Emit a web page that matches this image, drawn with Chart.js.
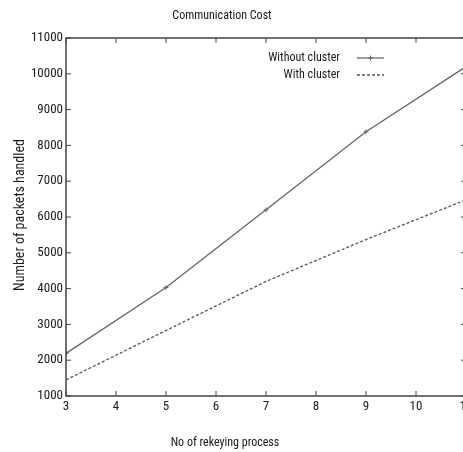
<!DOCTYPE html>
<html>
<head>
<meta charset="utf-8">
<script src="https://cdn.jsdelivr.net/npm/chart.js@4/dist/chart.umd.min.js"></script>
<style>
  html, body { margin: 0; padding: 0; background: #fff; overflow: hidden; }
  #wrap { width: 463px; height: 452px; overflow: hidden; }
</style>
</head>
<body>
<div id="wrap"><canvas id="costChart" width="480" height="452"></canvas></div>
<script>
const rekeying = [3, 5, 7, 9, 11];
const withoutCluster = [2190, 4030, 6200, 8380, 10200];
const withCluster = [1450, 2830, 4200, 5370, 6480];
const yTicks = [1000, 2000, 3000, 4000, 5000, 6000, 7000, 8000, 9000, 10000, 11000];

const FONT = '"Roboto Condensed", "Liberation Sans", sans-serif';

// gnuplot-like frame, inward ticks on all sides, texts and legend
const framePlugin = {
    id: 'frame',
    afterDraw(chart) {
        const ctx = chart.ctx;
        const a = chart.chartArea;
        const xs = chart.scales.x, ys = chart.scales.y;
        ctx.save();
        ctx.strokeStyle = '#444';
        ctx.lineWidth = 1.5;
        ctx.strokeRect(a.left, a.top, a.right - a.left, a.bottom - a.top);
        ctx.lineWidth = 1;
        xs.ticks.forEach(t => {
            const px = xs.getPixelForValue(t.value);
            ctx.beginPath();
            ctx.moveTo(px, a.bottom); ctx.lineTo(px, a.bottom - 5);
            ctx.moveTo(px, a.top); ctx.lineTo(px, a.top + 5);
            ctx.stroke();
        });
        ys.ticks.forEach(t => {
            const py = ys.getPixelForValue(t.value);
            ctx.beginPath();
            ctx.moveTo(a.left, py); ctx.lineTo(a.left + 5, py);
            ctx.moveTo(a.right, py); ctx.lineTo(a.right - 5, py);
            ctx.stroke();
        });

        ctx.fillStyle = '#1a1a1a';
        ctx.font = '12px ' + FONT;
        ctx.textAlign = 'center';
        ctx.textBaseline = 'middle';
        ctx.fillText('Communication Cost', 222, 16);
        ctx.fillText('No of rekeying process', 225, 443);
        ctx.save();
        ctx.font = '14px ' + FONT;
        ctx.translate(20, 215);
        ctx.rotate(-Math.PI / 2);
        ctx.fillText('Number of packets handled', 0, 0);
        ctx.restore();

        // legend: text right-aligned, sample to the right
        ctx.textAlign = 'right';
        chart.data.datasets.forEach((ds, i) => {
            const y = 58 + i * 17;
            ctx.fillStyle = '#1a1a1a';
            ctx.fillText(ds.label, 340, y);
            ctx.strokeStyle = ds.borderColor;
            ctx.lineWidth = ds.borderWidth;
            ctx.setLineDash(ds.borderDash || []);
            ctx.beginPath();
            ctx.moveTo(357, y); ctx.lineTo(384, y);
            ctx.stroke();
            ctx.setLineDash([]);
            if (ds.pointRadius) {
                ctx.lineWidth = 1;
                ctx.beginPath();
                ctx.moveTo(370.5 - 2.5, y); ctx.lineTo(370.5 + 2.5, y);
                ctx.moveTo(370.5, y - 2.5); ctx.lineTo(370.5, y + 2.5);
                ctx.stroke();
            }
        });
        ctx.restore();
    }
};

new Chart(document.getElementById('costChart'), {
    type: 'line',
    data: {
        datasets: [{
            label: 'Without cluster',
            data: rekeying.map((x, i) => ({ x: x, y: withoutCluster[i] })),
            borderColor: '#666',
            borderWidth: 1.3,
            pointStyle: 'cross',
            pointRadius: 2.5,
            pointBorderColor: '#666',
            pointBorderWidth: 1,
            fill: false,
            tension: 0
        }, {
            label: 'With cluster',
            data: rekeying.map((x, i) => ({ x: x, y: withCluster[i] })),
            borderColor: '#555',
            borderWidth: 1.3,
            borderDash: [3, 2],
            pointRadius: 0,
            fill: false,
            tension: 0
        }]
    },
    options: {
        responsive: false,
        animation: false,
        layout: { padding: { top: 38, right: 14, left: 0, bottom: 0 } },
        plugins: { legend: { display: false }, title: { display: false }, tooltip: { enabled: false } },
        scales: {
            x: {
                type: 'linear', min: 3, max: 11,
                afterFit: s => { s.height = 56; },
                ticks: { stepSize: 1, padding: 3, color: '#1a1a1a', font: { family: FONT, size: 13 },
                         callback: v => String(v) },
                grid: { display: false, drawTicks: false },
                border: { display: false }
            },
            y: {
                min: 1000, max: 11000,
                afterFit: s => { s.width = 66; },
                afterBuildTicks: s => { s.ticks = yTicks.map(v => ({ value: v })); },
                ticks: { padding: 3, color: '#1a1a1a', font: { family: FONT, size: 13 },
                         callback: v => String(v) },
                grid: { display: false, drawTicks: false },
                border: { display: false }
            }
        }
    },
    plugins: [framePlugin]
});
</script>
</body>
</html>
